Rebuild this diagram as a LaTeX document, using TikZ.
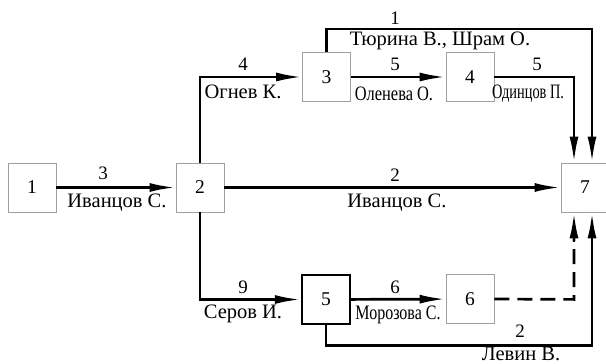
\documentclass[tikz,border=0pt]{standalone}
\usepackage{fontspec}
\setmainfont{Liberation Serif}
\newfontfamily\netfont{Liberation Serif}
\usetikzlibrary{arrows.meta}
\begin{document}
\begin{tikzpicture}[x=1pt,y=-1pt,
  box/.style={draw=gray!75, line width=0.8pt, minimum width=48pt, minimum height=49pt,
    inner sep=0pt, font=\netfont\fontsize{19.5}{21}\selectfont},
  critbox/.style={box, draw=black, line width=2.4pt},
  flow/.style={line width=2.7pt, -{Latex[length=26pt,width=9pt]}},
  lbl/.style={inner sep=0pt, font=\netfont\fontsize{20.5}{22}\selectfont},
  num/.style={inner sep=0pt, font=\netfont\fontsize{19}{21}\selectfont}]
  \useasboundingbox (0,0) rectangle (606,364);
  \clip (0,0) rectangle (606,364);

  % events
  \node[box] (b1) at (32,187.5) {1};
  \node[box] (b2) at (200,187.5) {2};
  \node[box] (b3) at (326.5,77) {3};
  \node[box] (b4) at (470,77) {4};
  \node[critbox] (b5) at (326,299.5) {5};
  \node[box] (b6) at (470,299) {6};
  \node[box] (b7) at (585,187.5) {7};

  % entry points on event 7
  \coordinate (t7a) at ([xshift=-11pt]b7.north);
  \coordinate (t7b) at ([xshift=7pt]b7.north);
  \coordinate (s7a) at ([xshift=-11pt]b7.south);
  \coordinate (s7b) at ([xshift=7pt]b7.south);
  \coordinate (k67) at ([yshift=-87pt]s7a);

  % works
  \draw[flow] (b1) -- (b2);
  \draw[flow] (b2.north) |- (b3.west);
  \draw[flow] (b3) -- (b4);
  \draw[flow] (b4.east) -| (t7a);
  \draw[flow] (b3.north) -- ++(0,-23) -| (t7b);
  \draw[flow] (b2) -- (b7);
  \draw[flow] (b2.south) |- (b5.west);
  \draw[flow] (b5) -- (b6);
  \draw[line width=2.7pt, dash pattern=on 15pt off 8pt] (b6.east) -- (k67) -- ([yshift=-26pt]s7a);
  \draw[flow] ([yshift=-30pt]s7a) -- (s7a);
  \draw[flow] (b5.south) -- ++(0,20) -| (s7b);

  % durations and performers
  \node[num] (d12) at (103,173) {3};
  \node[lbl] (p12) at (117,203) {Иванцов С.};
  \node[num] (d23) at (243,64.5) {4};
  \node[lbl] (p23) at (243,92) {Огнев К.};
  \node[num] (d34) at (395,64.5) {5};
  \node[lbl] (p34) at (394,94) {\scalebox{0.8}[1]{Оленева О.}};
  \node[num] (d47) at (537,64.5) {5};
  \node[lbl] (p47) at (528,94) {\scalebox{0.7}[1]{Одинцов П.}};
  \node[num] (d37) at (395,18.5) {1};
  \node[lbl] (p37) at (440,41) {Тюрина В., Шрам О.};
  \node[num] (d27) at (395,175) {2};
  \node[lbl] (p27) at (397,203) {Иванцов С.};
  \node[num] (d25) at (243,287) {9};
  \node[lbl] (p25) at (243,314) {Серов И.};
  \node[num] (d56) at (395,287) {6};
  \node[lbl] (p56) at (398,315) {\scalebox{0.78}[1]{Морозова С.}};
  \node[num] (d57) at (520,331) {2};
  \node[lbl] (p57) at (521,354) {Левин В.};
\end{tikzpicture}
\end{document}
